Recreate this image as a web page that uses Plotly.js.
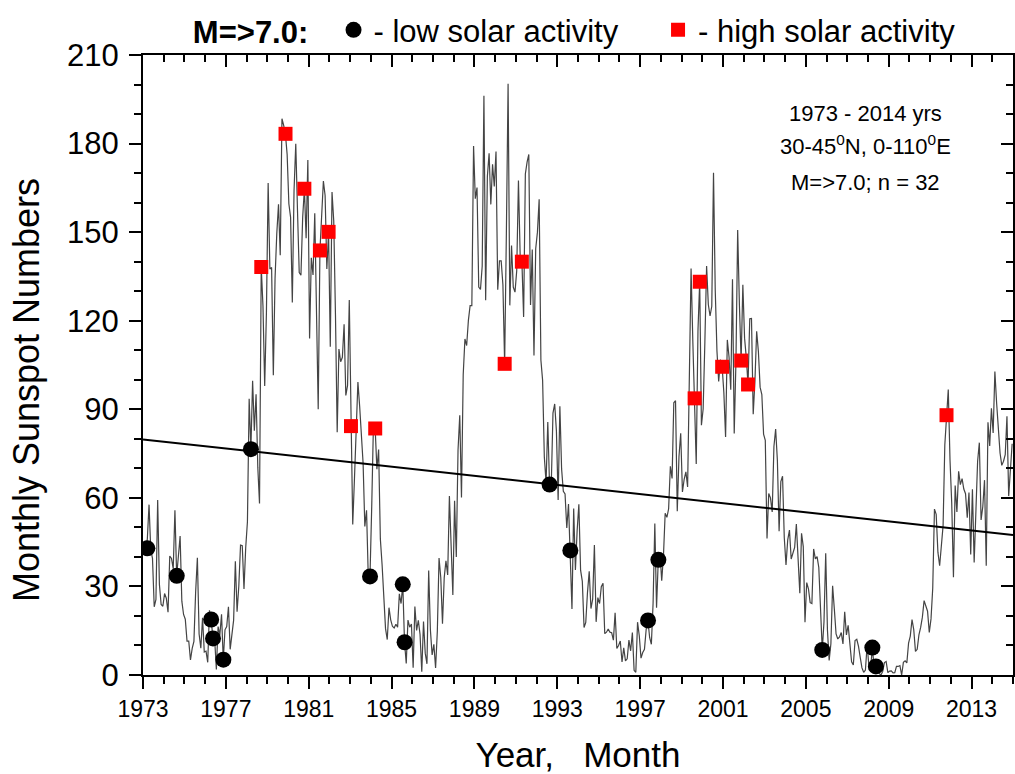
<!DOCTYPE html>
<html>
<head>
<meta charset="utf-8">
<script src="https://cdn.plot.ly/plotly-3.0.1.min.js"></script>
<style>html,body{margin:0;padding:0;background:#fff;}#chart{width:1015px;height:774px;}</style>
</head>
<body>
<div id="chart"></div>
<script>
// Monthly sunspot numbers, Jan 1973 .. Dec 2014
const ssn1973to1979 = [
  43.4, 42.9, 46.0, 57.7, 42.4, 39.5, 23.1, 25.6, 59.3, 30.7, 23.9, 23.3,
  27.6, 26.0, 21.3, 40.3, 39.5, 36.0, 55.8, 33.6, 40.2, 47.1, 25.0, 20.5,
  18.9, 11.5, 11.5, 5.1, 9.0, 11.4, 28.2, 39.7, 13.9, 9.1, 19.4, 7.8,
  8.1, 4.3, 21.9, 18.8, 12.4, 12.2, 1.9, 16.4, 13.5, 20.6, 5.2, 15.3,
  16.4, 23.1, 8.7, 12.9, 18.6, 38.5, 21.4, 30.1, 44.0, 43.8, 29.1, 43.2,
  51.9, 93.6, 76.5, 99.7, 82.7, 95.1, 70.4, 58.1, 138.2, 125.1, 97.9, 122.7,
  166.6, 137.5, 138.0, 101.5, 134.4, 149.5, 159.4, 142.2, 188.4, 186.2, 183.3, 176.3
];
const ssn1980s = [
  159.6, 155.0, 126.2, 164.1, 179.9, 157.3, 136.3, 135.4, 155.0, 164.7, 147.9, 174.4,
  114.0, 141.3, 135.5, 156.4, 127.5, 90.0, 143.8, 158.7, 167.3, 162.4, 137.5, 150.1,
  111.2, 163.6, 153.8, 122.0, 82.2, 110.4, 106.1, 107.6, 118.8, 94.7, 98.1, 127.0,
  84.3, 51.0, 66.5, 80.7, 99.2, 91.1, 82.2, 71.8, 50.3, 55.8, 33.3, 33.4,
  57.0, 85.1, 83.5, 69.7, 76.4, 46.1, 37.4, 25.5, 15.7, 12.0, 22.8, 18.7,
  16.5, 15.9, 17.2, 16.2, 27.5, 24.2, 30.7, 11.1, 3.9, 18.6, 16.2, 17.3,
  2.5, 23.2, 15.1, 18.5, 13.7, 1.1, 18.1, 7.4, 3.8, 35.4, 15.2, 6.8,
  10.4, 2.4, 14.7, 39.6, 33.0, 17.4, 33.0, 38.7, 33.9, 60.6, 39.9, 27.1,
  59.0, 40.0, 76.2, 88.0, 60.1, 101.8, 113.8, 111.6, 120.1, 125.1, 125.1, 179.2,
  161.3, 165.1, 131.4, 130.6, 138.5, 196.2, 126.9, 168.9, 176.7, 159.4, 173.0, 165.5
];
const ssn1990s = [
  177.3, 130.5, 140.3, 140.3, 132.2, 105.4, 149.4, 200.3, 125.2, 145.5, 131.4, 129.7,
  136.9, 167.5, 141.9, 140.0, 121.3, 169.7, 173.7, 176.3, 125.3, 144.1, 108.2, 144.4,
  150.0, 161.1, 106.7, 99.8, 73.8, 65.2, 85.7, 64.5, 63.9, 88.7, 91.8, 82.6,
  59.3, 91.0, 69.8, 62.2, 61.3, 49.8, 57.9, 42.2, 22.4, 56.4, 35.6, 48.9,
  57.8, 35.5, 31.7, 16.1, 17.8, 28.0, 35.1, 22.5, 25.7, 44.0, 18.0, 26.2,
  24.2, 29.9, 31.1, 14.0, 14.5, 15.6, 14.5, 14.3, 11.8, 21.1, 9.0, 10.0,
  11.5, 4.4, 9.2, 4.8, 5.5, 11.8, 8.2, 14.4, 1.6, 0.9, 17.9, 13.3,
  5.7, 7.6, 8.7, 15.5, 18.5, 12.7, 10.4, 24.4, 51.3, 22.8, 39.0, 41.2,
  31.9, 40.3, 54.8, 53.4, 56.3, 70.7, 66.6, 92.2, 92.9, 55.5, 74.0, 81.9,
  62.0, 66.3, 68.8, 63.7, 106.4, 137.7, 113.5, 93.7, 71.5, 116.7, 133.2, 84.6
];
const ssn2000s = [
  90.1, 112.9, 138.5, 125.5, 121.6, 124.9, 170.1, 130.5, 109.7, 99.4, 106.8, 104.4,
  95.6, 80.6, 113.5, 107.7, 96.6, 134.0, 81.8, 106.4, 150.7, 125.5, 106.5, 132.2,
  114.1, 107.4, 98.4, 120.7, 120.8, 88.3, 99.6, 116.4, 109.6, 97.5, 95.0, 81.6,
  79.5, 46.2, 61.5, 60.0, 55.2, 77.4, 83.3, 72.7, 48.7, 65.5, 67.3, 46.5,
  37.3, 45.8, 49.1, 39.3, 41.5, 43.2, 51.1, 40.9, 27.7, 48.0, 43.5, 17.9,
  31.3, 29.2, 24.5, 24.2, 42.7, 39.3, 40.1, 36.4, 22.1, 8.5, 18.0, 41.2,
  15.3, 4.9, 10.6, 30.2, 22.3, 13.9, 12.2, 12.9, 14.4, 10.5, 21.4, 13.6,
  16.8, 10.7, 4.5, 3.4, 11.7, 12.1, 9.7, 6.0, 2.4, 0.9, 1.7, 10.1,
  3.3, 2.1, 9.3, 2.9, 2.9, 3.1, 0.5, 0.0, 1.2, 4.2, 4.6, 0.8,
  1.3, 1.4, 0.7, 0.8, 2.9, 2.9, 3.2, 0.0, 4.3, 4.8, 4.1, 10.8
];
const ssn2010to2014 = [
  13.2, 18.8, 15.4, 8.0, 8.7, 13.6, 16.1, 19.6, 25.2, 23.5, 21.6, 14.4,
  19.0, 29.4, 56.2, 54.4, 41.6, 37.0, 43.8, 50.6, 78.0, 88.0, 96.7, 73.0,
  58.3, 33.1, 64.2, 55.2, 69.0, 64.5, 66.5, 63.0, 61.4, 53.3, 61.8, 40.8,
  62.9, 38.1, 57.9, 72.4, 78.7, 52.5, 57.0, 66.0, 37.0, 85.6, 77.6, 90.3,
  82.0, 102.8, 92.2, 84.7, 75.2, 71.0, 72.4, 74.6, 87.6, 60.6, 70.1, 78.3
];
const startYear = 1973;

// Earthquakes M>=7.0 during low solar activity (year, sunspot number)
const lowYear = [1973.21, 1974.63, 1976.29, 1976.38, 1976.88, 1978.21, 1983.96, 1985.54, 1985.63, 1992.63, 1993.63, 1997.38, 1997.88, 2005.79, 2008.21, 2008.38];
const lowSSN  = [42.9, 33.6, 18.8, 12.4, 5.2, 76.5, 33.4, 30.7, 11.1, 64.5, 42.2, 18.5, 39.0, 8.5, 9.3, 2.9];
// Earthquakes M>=7.0 during high solar activity
const highYear = [1978.71, 1979.88, 1980.79, 1981.54, 1981.96, 1983.04, 1984.21, 1990.46, 1991.29, 1999.63, 1999.88, 2000.96, 2001.88, 2002.21, 2011.79];
const highSSN  = [138.2, 183.3, 164.7, 143.8, 150.1, 84.3, 83.5, 105.4, 140.0, 93.7, 133.2, 104.4, 106.5, 98.4, 88.0];

// Linear trend of sunspot numbers
const trendYear = [1973, 2015];
const trendSSN  = [79.8, 47.4];

const xTickVals = [1973, 1977, 1981, 1985, 1989, 1993, 1997, 2001, 2005, 2009, 2013];
const infoLines = ['1973 - 2014 yrs', '30-45<sup>0</sup>N, 0-110<sup>0</sup>E', 'M=>7.0; n = 32'];

const ssn = [].concat(ssn1973to1979, ssn1980s, ssn1990s, ssn2000s, ssn2010to2014);
const ssnYear = ssn.map((_, i) => startYear + (i + 0.5) / 12);

const FONT = 'Liberation Sans, Arial, Helvetica, sans-serif';

const traces = [
  {x: ssnYear, y: ssn, type: 'scatter', mode: 'lines', line: {color: '#444', width: 1.2}, showlegend: false, hoverinfo: 'x+y'},
  {x: trendYear, y: trendSSN, type: 'scatter', mode: 'lines', line: {color: '#000', width: 2}, showlegend: false},
  {x: lowYear, y: lowSSN, type: 'scatter', mode: 'markers', name: '- low solar activity', legend: 'legend',
   marker: {symbol: 'circle', size: 16, color: '#000'}},
  {x: highYear, y: highSSN, type: 'scatter', mode: 'markers', name: '- high solar activity', legend: 'legend2',
   marker: {symbol: 'square', size: 14, color: '#ff0000'}},
  {x: [], y: [], xaxis: 'x2', yaxis: 'y2', type: 'scatter', mode: 'markers', showlegend: false, hoverinfo: 'skip'}
];

const common = {showgrid: false, zeroline: false, showline: true, linecolor: '#000', linewidth: 2, tickcolor: '#000', tickwidth: 2};

const infoY = [0.906, 0.855, 0.795];
const annotations = infoLines.map((t, i) => ({
  xref: 'paper', yref: 'paper', x: 0.83, y: infoY[i], xanchor: 'center', yanchor: 'middle',
  text: t, showarrow: false, align: 'center', font: {size: 22, family: FONT}
}));

const layout = {
  width: 1015, height: 774,
  margin: {l: 143, r: 2, t: 55, b: 99, pad: 0},
  paper_bgcolor: '#fff', plot_bgcolor: '#fff',
  font: {family: FONT, color: '#000', size: 23},
  xaxis: Object.assign({}, common, {
    range: [1973, 2015], tickmode: 'array', tickvals: xTickVals, ticks: 'outside', ticklen: 12,
    minor: {dtick: 1, tick0: 1973, ticks: 'outside', ticklen: 7, tickwidth: 2, tickcolor: '#000'},
    tickfont: {size: 23, family: FONT},
    title: {text: 'Year,&nbsp;&nbsp;&nbsp;Month', font: {size: 35, family: FONT}, standoff: 24}
  }),
  yaxis: Object.assign({}, common, {
    range: [0, 210], tick0: 0, dtick: 30, ticks: 'outside', ticklen: 12, ticklabelstandoff: 4,
    minor: {dtick: 10, tick0: 0, ticks: 'outside', ticklen: 7, tickwidth: 2, tickcolor: '#000'},
    tickfont: {size: 31, family: FONT},
    title: {text: 'Monthly Sunspot Numbers&nbsp;&nbsp;&nbsp;&nbsp;&nbsp;', font: {size: 36, family: FONT}, standoff: 16}
  }),
  xaxis2: Object.assign({}, common, {
    overlaying: 'x', side: 'top', anchor: 'y2', range: [1973, 2015], tickmode: 'array', tickvals: xTickVals,
    ticks: 'inside', ticklen: 12, showticklabels: false,
    minor: {dtick: 1, tick0: 1973, ticks: 'inside', ticklen: 7, tickwidth: 2, tickcolor: '#000'}
  }),
  yaxis2: Object.assign({}, common, {
    overlaying: 'y', side: 'right', anchor: 'x2', range: [0, 210], tick0: 0, dtick: 30,
    ticks: 'inside', ticklen: 12, showticklabels: false,
    minor: {dtick: 10, tick0: 0, ticks: 'inside', ticklen: 7, tickwidth: 2, tickcolor: '#000'}
  }),
  showlegend: true,
  legend: {
    orientation: 'h', x: 0.055, xanchor: 'left', y: 1.04, yanchor: 'middle',
    font: {size: 31, family: FONT}, bgcolor: 'rgba(0,0,0,0)',
    title: {text: '<b>M=>7.0:</b>&nbsp;&nbsp;', font: {size: 31, family: FONT}, side: 'left'},
    itemwidth: 30
  },
  legend2: {
    orientation: 'h', x: 0.592, xanchor: 'left', y: 1.04, yanchor: 'middle',
    font: {size: 31, family: FONT}, bgcolor: 'rgba(0,0,0,0)',
    itemwidth: 30
  },
  annotations: annotations
};

Plotly.newPlot('chart', traces, layout, {displayModeBar: false, staticPlot: true});
</script>
</body>
</html>
